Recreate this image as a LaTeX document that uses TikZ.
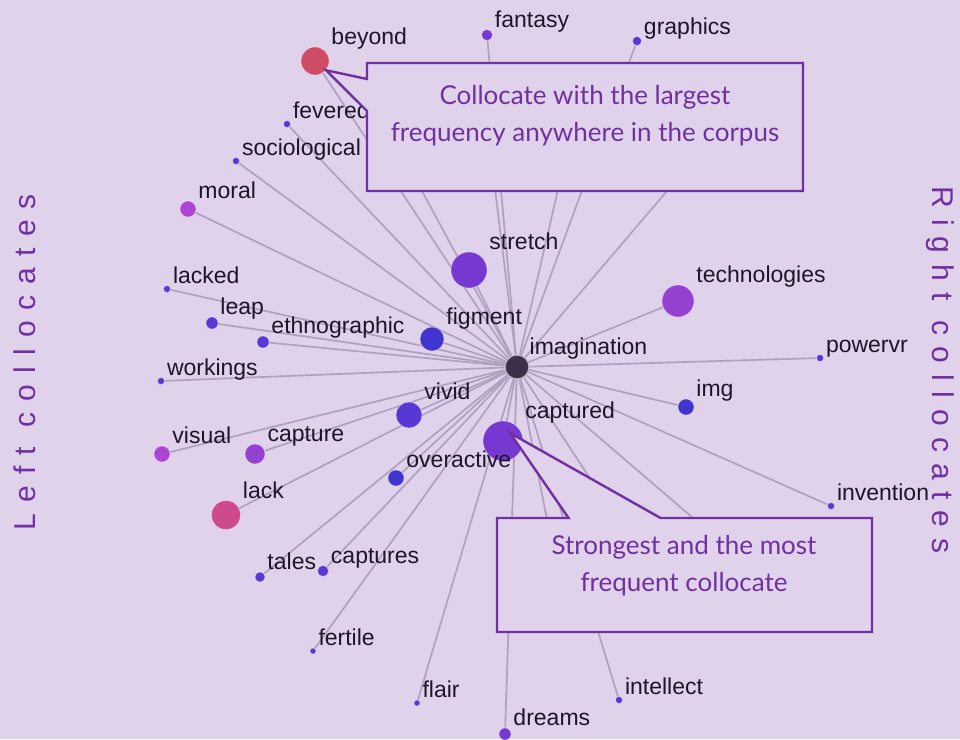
\documentclass[tikz,border=0pt]{standalone}
\usepackage{fontspec}
\usepackage{tikz}
\usetikzlibrary{shapes.callouts, positioning}
\newfontfamily\wordfont{Liberation Sans}
\newfontfamily\notefont{Lato}
\newfontfamily\sidefont[LetterSpace=37]{Liberation Sans}
\definecolor{bglav}{RGB}{224, 210, 235}
\definecolor{linkgray}{RGB}{176, 162, 190}
\definecolor{notepurple}{RGB}{112, 48, 160}
\definecolor{inkdark}{RGB}{28, 22, 40}
\definecolor{hubdark}{RGB}{62, 48, 72}
\definecolor{freqred}{RGB}{206, 76, 100}
\definecolor{freqpink}{RGB}{205, 74, 140}
\definecolor{freqmagenta}{RGB}{172, 68, 212}
\definecolor{freqviolet}{RGB}{148, 65, 210}
\definecolor{freqpurple}{RGB}{118, 56, 208}
\definecolor{freqindigo}{RGB}{88, 56, 212}
\definecolor{freqblue}{RGB}{66, 52, 208}
\pgfdeclarelayer{back}
\pgfdeclarelayer{links}
\pgfsetlayers{back,links,main}
\tikzset{
    hub/.style={circle, minimum size=24pt, inner sep=0pt, fill=hubdark,
                draw=white!65!hubdark, line width=1.2pt},
    coll/.style={circle, minimum size=#1, inner sep=0pt, draw=white,
                 draw opacity=0.35, line width=0.8pt},
    word/.style={font=\wordfont\fontsize{23}{27}\selectfont, text=inkdark,
                 inner sep=0pt, anchor=base west},
    link/.style={draw=linkgray, line width=1.7pt},
    note/.style={rectangle callout, draw=notepurple, fill=bglav,
                 line width=2.4pt},
    notetext/.style={font=\notefont\fontsize{26}{37}\selectfont,
                     text=notepurple, align=center},
    side/.style={font=\sidefont\fontsize{30}{36}\selectfont,
                 text=notepurple},
}

\begin{document}
\begin{tikzpicture}[x=1pt, y=-1pt]
    \useasboundingbox (0,0) rectangle (960,739);
    \begin{pgfonlayer}{back}
        \fill[bglav] (0,0) rectangle (960,739);
    \end{pgfonlayer}

    % Node word
    \node[hub, label={[word, label distance=5pt]45:imagination}] (imag) at (517,367) {};

    % Upper half
    \node[coll=28, fill=freqred, label={[word, label distance=8.6pt]45:beyond}] (beyond) at (315,61) {};
    \node[coll=11, fill=freqpurple, label={[word, label distance=5.1pt]45:fantasy}] (fantasy) at (487,35) {};
    \node[coll=9, fill=freqindigo, label={[word, label distance=4.7pt]45:graphics}] (graphics) at (637,41) {};
    \node[coll=7, fill=freqindigo, label={[word, label distance=4.3pt]45:fevered}] (fevered) at (287,124) {};
    \node[coll=7, fill=freqindigo, label={[word, label distance=4.3pt]45:sociological}] (sociological) at (236,161) {};
    \node[coll=16, fill=freqmagenta, label={[word, label distance=6.1pt]45:moral}] (moral) at (188,209) {};
    \node[coll=36, fill=freqpurple, label={[word, label distance=10.2pt]45:stretch}] (stretch) at (469,270) {};
    \node[coll=32, fill=freqviolet, label={[word, label distance=9.4pt]45:technologies}] (technologies) at (678,301) {};
    \node[coll=7, fill=freqindigo, label={[word, label distance=4.3pt]45:lacked}] (lacked) at (167,289) {};
    \node[coll=12, fill=freqindigo, label={[word, label distance=5.3pt]45:leap}] (leap) at (212,323) {};
    \node[coll=12, fill=freqindigo, label={[word, label distance=5.3pt]45:ethnographic}] (ethnographic) at (263,342) {};
    \node[coll=24, fill=freqblue, label={[word, label distance=7.8pt]45:figment}] (figment) at (432,339) {};
    \node[coll=7, fill=freqindigo, label={[word, label distance=4.3pt]45:workings}] (workings) at (161,381) {};
    \node[coll=7, fill=freqindigo, label={[word, label distance=4.3pt]45:powervr}] (powervr) at (820,358) {};

    % Lower half
    \node[coll=16, fill=freqblue, label={[word, label distance=6.1pt]45:img}] (img) at (686,407) {};
    \node[coll=26, fill=freqindigo, label={[word, label distance=8.2pt]45:vivid}] (vivid) at (409,415) {};
    \node[coll=40, fill=freqpurple, label={[word, label distance=11pt]45:captured}] (captured) at (503,441) {};
    \node[coll=16, fill=freqmagenta, label={[word, label distance=6.1pt]45:visual}] (visual) at (162,454) {};
    \node[coll=20, fill=freqviolet, label={[word, label distance=7pt]45:capture}] (capture) at (255,454) {};
    \node[coll=16, fill=freqblue, label={[word, label distance=6.1pt]45:overactive}] (overactive) at (396,478) {};
    \node[coll=29, fill=freqpink, label={[word, label distance=8.8pt]45:lack}] (lack) at (226,515) {};
    \node[coll=7, fill=freqindigo, label={[word, label distance=4.3pt]45:invention}] (invention) at (831,506) {};
    \node[coll=10, fill=freqindigo, label={[word, label distance=4.9pt]45:tales}] (tales) at (260,577) {};
    \node[coll=11, fill=freqindigo, label={[word, label distance=5.1pt]45:captures}] (captures) at (323,571) {};
    \node[coll=6, fill=freqindigo, label={[word, label distance=4.1pt]45:fertile}] (fertile) at (313,651) {};
    \node[coll=6, fill=freqindigo, label={[word, label distance=4.1pt]45:flair}] (flair) at (417,703) {};
    \node[coll=7, fill=freqindigo, label={[word, label distance=4.3pt]45:intellect}] (intellect) at (619,700) {};
    \node[coll=12, fill=freqpurple, label={[word, label distance=5.3pt]45:dreams}] (dreams) at (505,734) {};

    % Ends hidden under the notes
    \coordinate (hid1) at (389,130);
    \coordinate (hid2) at (484,100);
    \coordinate (hid3) at (581,90);
    \coordinate (hid4) at (736,110);
    \coordinate (hid5) at (555,560);
    \coordinate (hid6) at (650,570);
    \coordinate (hid7) at (742,560);

    % Links
    \begin{pgfonlayer}{links}
        \draw[link] (imag) -- (beyond);
        \draw[link] (imag) -- (fantasy);
        \draw[link] (imag) -- (graphics);
        \draw[link] (imag) -- (fevered);
        \draw[link] (imag) -- (sociological);
        \draw[link] (imag) -- (moral);
        \draw[link] (imag) -- (stretch);
        \draw[link] (imag) -- (technologies);
        \draw[link] (imag) -- (lacked);
        \draw[link] (imag) -- (leap);
        \draw[link] (imag) -- (ethnographic);
        \draw[link] (imag) -- (figment);
        \draw[link] (imag) -- (workings);
        \draw[link] (imag) -- (powervr);
        \draw[link] (imag) -- (img);
        \draw[link] (imag) -- (vivid);
        \draw[link] (imag) -- (captured);
        \draw[link] (imag) -- (visual);
        \draw[link] (imag) -- (capture);
        \draw[link] (imag) -- (overactive);
        \draw[link] (imag) -- (lack);
        \draw[link] (imag) -- (invention);
        \draw[link] (imag) -- (tales);
        \draw[link] (imag) -- (captures);
        \draw[link] (imag) -- (fertile);
        \draw[link] (imag) -- (flair);
        \draw[link] (imag) -- (intellect);
        \draw[link] (imag) -- (dreams);
        \draw[link] (imag) -- (hid1);
        \draw[link] (imag) -- (hid2);
        \draw[link] (imag) -- (hid3);
        \draw[link] (imag) -- (hid4);
        \draw[link] (imag) -- (hid5);
        \draw[link] (imag) -- (hid6);
        \draw[link] (imag) -- (hid7);
    \end{pgfonlayer}

    % Notes
    \node[note, minimum width=436pt, minimum height=128pt,
          callout absolute pointer={(beyond.-40)}, callout pointer width=32pt] (bignote) at (585,127) {};
    \node[notetext] (bigtext) at (585,116) {Collocate with the largest\\frequency anywhere in the corpus};
    \node[note, minimum width=375pt, minimum height=114pt,
          callout absolute pointer={([shift={(7,-8)}]captured.center)}, callout pointer width=92pt] (strongnote) at (684.5,575) {};
    \node[notetext] (strongtext) at (684,566) {Strongest and the most\\frequent collocate};

    % Side titles
    \node[side, rotate=90] (leftside) at (25,362) {Left collocates};
    \node[side, rotate=-90] (rightside) at (940,370) {Right collocates};
\end{tikzpicture}
\end{document}
